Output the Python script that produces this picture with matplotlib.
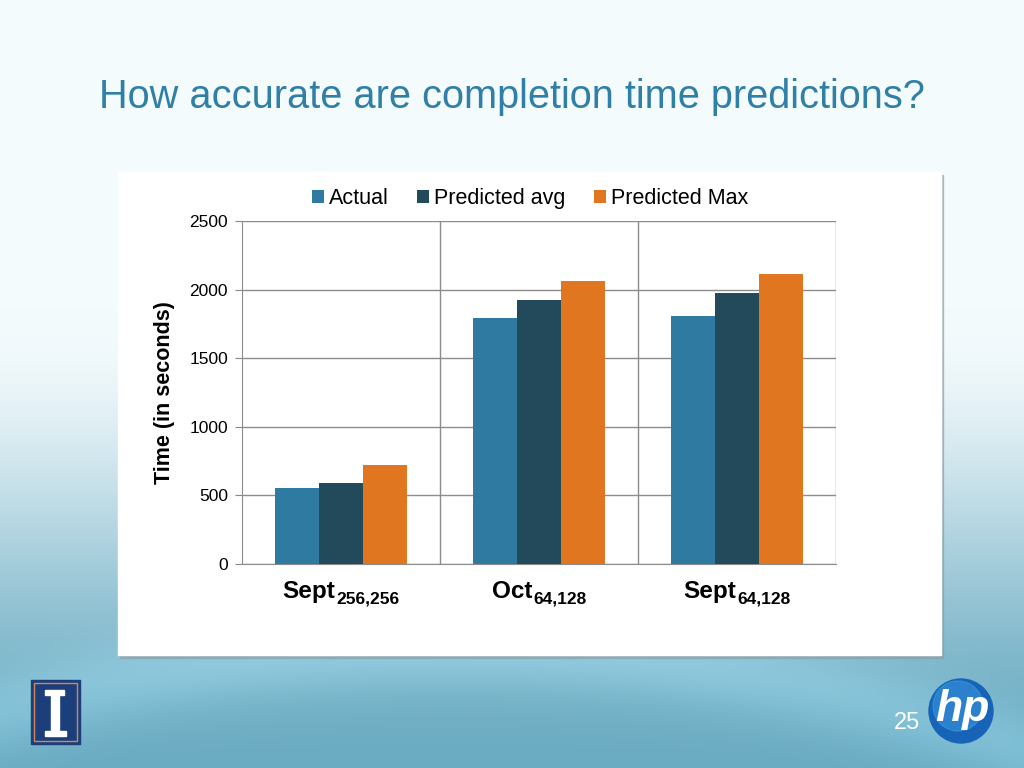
import numpy as np
import matplotlib
matplotlib.use("Agg")
import matplotlib.pyplot as plt
from matplotlib.patches import Rectangle, Circle
from matplotlib.transforms import blended_transform_factory, offset_copy

plt.rcParams['font.family'] = ['Liberation Sans', 'DejaVu Sans']

categories = ["Sept", "Oct", "Sept"]
subscripts = ["256,256", "64,128", "64,128"]
series = ["Actual", "Predicted avg", "Predicted Max"]
actual = [552, 1791, 1808]
pred_avg = [593, 1922, 1975]
pred_max = [722, 2060, 2114]
colors = ["#2e7aa1", "#234a5a", "#e07620"]

W, H = 1024, 768
fig = plt.figure(figsize=(W / 100, H / 100), dpi=100)

# slide background
bg = fig.add_axes([0, 0, 1, 1])
bg.set_xlim(0, W)
bg.set_ylim(H, 0)
bg.axis("off")
yy, xx = np.mgrid[0:H, 0:W]
t = yy / H
top = np.array([244, 251, 253]) / 255
bot = np.array([108, 172, 194]) / 255
u = np.clip((t - 0.40) / 0.60, 0, 1)
s = u * u * (3 - 2 * u)
img = top * (1 - s[..., None]) + bot * s[..., None]
# faint lighter swoosh near the bottom
arc = 650 + 0.00030 * (xx - 450) ** 2
glow = np.exp(-((yy - arc) / 40) ** 2) * 0.07
img = np.clip(img + glow[..., None], 0, 1)
bg.imshow(img, extent=[0, W, H, 0], aspect="auto", zorder=0)

# white chart panel with shadow
bg.add_patch(Rectangle((120, 175), 823, 483, color="#8f9ea4", alpha=0.6, zorder=1))
bg.add_patch(Rectangle((118, 172), 823, 483, color="white", zorder=2))

# title
bg.text(512, 97, "How accurate are completion time predictions?", ha="center", va="center",
        fontsize=28.6, color="#2f7fa6", zorder=3)

# Illinois logo
bg.add_patch(Rectangle((31, 680), 49, 64, color="#1b3f7a", zorder=3))
bg.add_patch(Rectangle((34, 683), 43, 58, fill=False, edgecolor="#d9825a", lw=1, zorder=4))
bg.add_patch(Rectangle((45, 690), 19, 5, color="white", zorder=4))
bg.add_patch(Rectangle((51, 695), 8, 38, color="white", zorder=4))
bg.add_patch(Rectangle((45, 731), 21, 5, color="white", zorder=4))

# HP logo and page number
bg.add_patch(Circle((961, 711), 32, color="#1763b8", zorder=3))
bg.add_patch(Circle((958, 706), 25, color="#3d9be0", alpha=0.55, zorder=3))
bg.text(962, 710, "hp", ha="center", va="center", fontsize=32, fontweight="bold",
        style="italic", color="white", zorder=4)
bg.text(907, 723, "25", ha="center", va="center", fontsize=17, color="white", zorder=4)

# chart
ax = fig.add_axes([242 / W, 1 - 564 / H, 594 / W, 343 / H])
ax.set_zorder(5)
x = np.arange(len(categories))
bw = 0.223
for i, (vals, name) in enumerate(zip([actual, pred_avg, pred_max], series)):
    ax.bar(x + (i - 1) * bw, vals, bw, color=colors[i], label=name, zorder=3)

ax.set_xlim(-0.5, 2.5)
ax.set_ylim(0, 2500)
ax.set_yticks(range(0, 2501, 500))
ax.set_xticks(x)
ax.set_xticklabels([])
ax.tick_params(axis="x", length=0)
ax.tick_params(axis="y", labelsize=12.5, length=5, color="#888888", pad=5)
ax.yaxis.grid(True, color="#8c8c8c", lw=1, zorder=0)
for b in [0.5, 1.5, 2.5]:
    ax.axvline(b, color="#8c8c8c", lw=1, zorder=0)
for sp in ["top", "right"]:
    ax.spines[sp].set_visible(False)
for sp in ["left", "bottom"]:
    ax.spines[sp].set_color("#8c8c8c")
ax.set_ylabel("Time (in seconds)", fontsize=15.5, fontweight="bold", labelpad=10)

ax.legend(loc="lower center", bbox_to_anchor=(0.485, 0.998), ncol=3, frameon=False,
          fontsize=15.5, handlelength=0.55, handleheight=0.55, handletextpad=0.25,
          columnspacing=1.3, borderaxespad=0.2)

# category labels: bold word with bold subscript
renderer = fig.canvas.get_renderer()
trans = blended_transform_factory(ax.transData, ax.transAxes)
for xi, word, sub in zip(x, categories, subscripts):
    main = ax.text(xi, -0.098, word, transform=trans, fontsize=17.5, fontweight="bold",
                   ha="left", va="baseline")
    low = ax.text(xi, -0.098, sub, transform=trans, fontsize=12.5, fontweight="bold",
                  ha="left", va="baseline")
    w1 = main.get_window_extent(renderer).width
    w2 = low.get_window_extent(renderer).width
    total = w1 + w2 + 1
    main.set_transform(offset_copy(trans, fig=fig, x=-total / 2, y=0, units="dots"))
    low.set_transform(offset_copy(trans, fig=fig, x=-total / 2 + w1 + 1, y=-6, units="dots"))

fig.savefig("out.png", dpi=100)
